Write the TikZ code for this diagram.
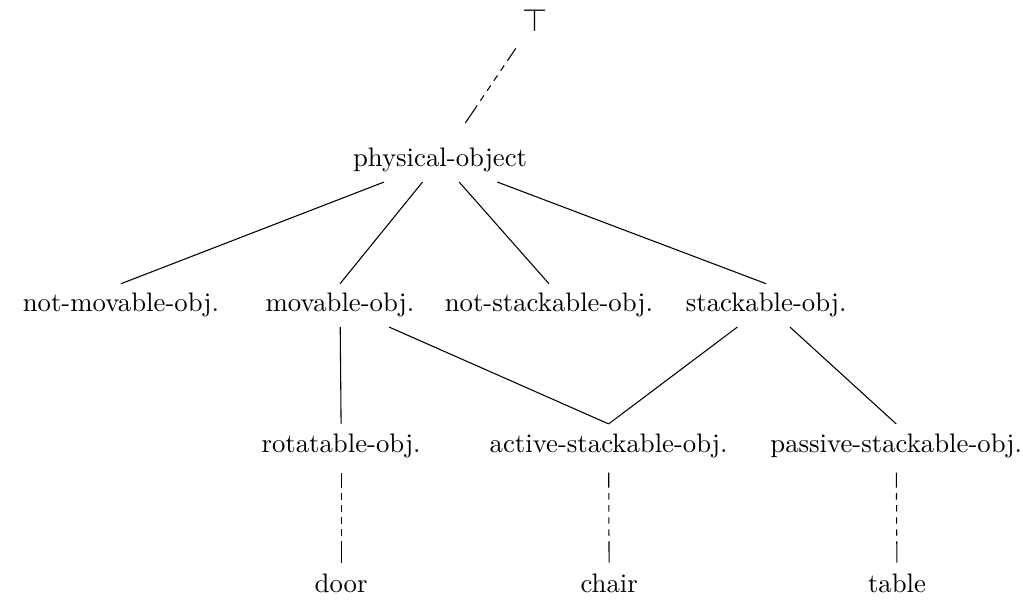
\documentclass[tikz,border=0pt]{standalone}
\usepackage{amsmath}
\usepackage{amssymb}
\usepackage{tikz}
\usetikzlibrary{positioning, calc}
\tikzset{
    concept/.style={inner sep=3.4pt, anchor=base},
    isa/.style={-},
    inst/.style={-, dash pattern=on 5.6pt off 2.1pt on 2.4pt off 2.1pt on 2.4pt off 2.1pt on 2.4pt off 2.1pt on 2.4pt off 2.1pt on 8pt},
}
\begin{document}
\begin{tikzpicture}[x=1pt, y=1pt]
    \useasboundingbox (0,0) rectangle (382.4,-227.3);

    \node[concept, font=\large, inner sep=1pt] (top) at (200.0,-11.6) {$\top$};
    \node[concept] (po) at (164.5,-62.4) {physical-object};

    \node[concept] (nm) at (45.2,-116.6) {not-movable-obj.};
    \node[concept] (mo) at (127.1,-116.6) {movable-obj.};
    \node[concept] (ns) at (205.2,-116.6) {not-stackable-obj.};
    \node[concept] (st) at (286.4,-116.6) {stackable-obj.};

    \node[concept] (ro) at (127.5,-169) {rotatable-obj.};
    \node[concept] (as) at (227.5,-169) {active-stackable-obj.};
    \node[concept] (ps) at (335.0,-169) {passive-stackable-obj.};

    \node[concept] (door) at (127.5,-221.3) {door};
    \node[concept] (chair) at (227.7,-221.3) {chair};
    \node[concept] (table) at (335.3,-221.3) {table};

    \draw[inst, shorten <=6.4pt, shorten >=2.5pt] (top) -- (po);

    \draw[isa] (po) edge (nm.north) edge (mo.north) edge (ns.north) edge (st.north);
    \draw[isa] (mo) edge (ro.north) edge (as.north);
    \draw[isa] (st) edge (as.north) edge (ps.north);

    \draw[inst, shorten <=2pt] (ro) -- (door);
    \draw[inst, shorten <=2pt] (as) -- (chair);
    \draw[inst, shorten <=2pt] (ps) -- (table);
\end{tikzpicture}
\end{document}
